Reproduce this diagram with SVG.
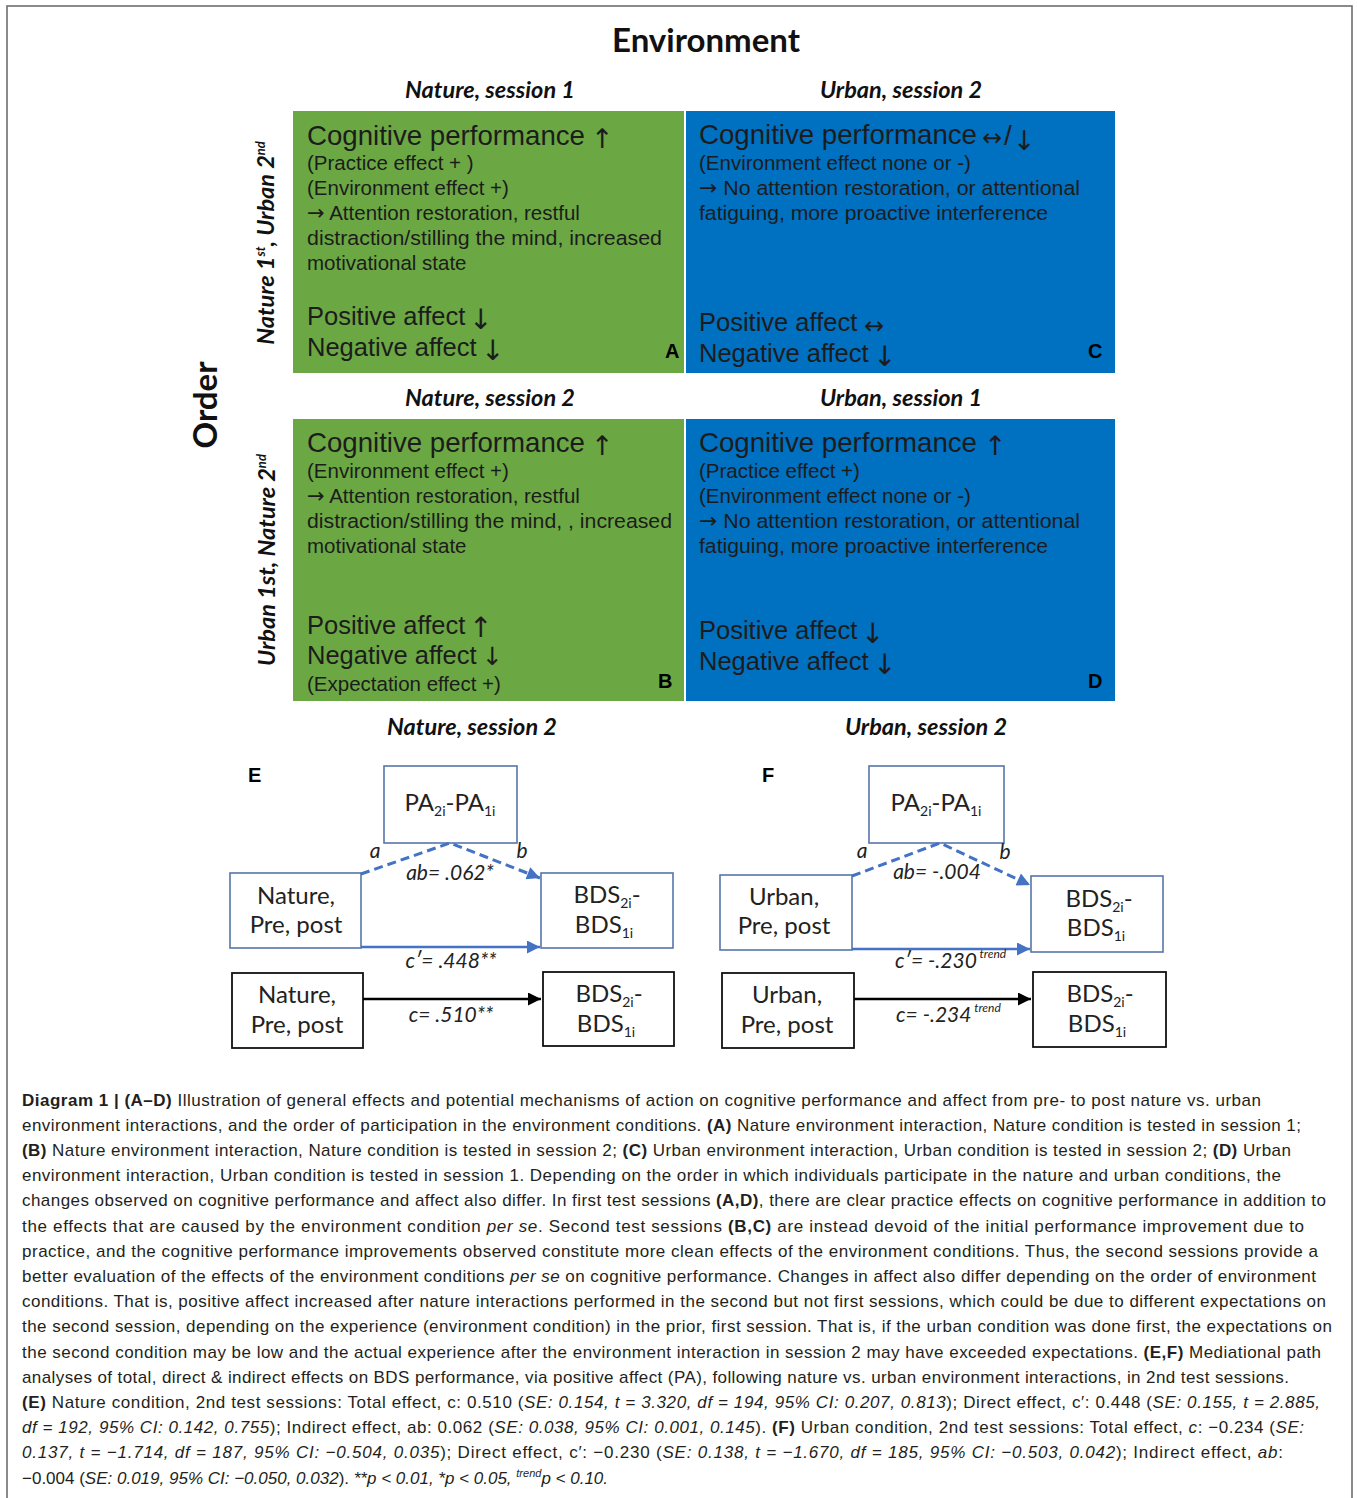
<svg xmlns="http://www.w3.org/2000/svg" width="1357" height="1498" viewBox="0 0 1357 1498">
<style>
.hd{font-family:Lato,"Open Sans","Liberation Sans",sans-serif;font-weight:bold;fill:#111}
.hi{font-family:Lato,"Open Sans","Liberation Sans",sans-serif;font-weight:bold;font-style:italic;fill:#111;font-size:23.5px}
.q{font-family:"Liberation Sans",Arial,sans-serif;fill:#1c1c1c}
.qb{font-size:28px}
.qs{font-size:20.5px}
.qm{font-size:25.5px}
.ar{font-family:"DejaVu Sans","Liberation Sans",sans-serif;fill:#1c1c1c}
.ah{font-size:27px}
.am{font-size:28px}
.sa{font-family:"DejaVu Sans","Liberation Sans",sans-serif;font-size:21px}
.ql{font-family:"Liberation Sans",Arial,sans-serif;font-weight:bold;font-size:20px;fill:#000}
.bx{font-family:Lato,"Open Sans","Liberation Sans",sans-serif;font-size:24px;fill:#222}
.lb{font-family:Lato,"Open Sans","Liberation Sans",sans-serif;font-style:italic;font-size:21px;fill:#222}
.nb{fill:#fff;stroke:#5676ab;stroke-width:1.6}
.kb{fill:#fff;stroke:#111;stroke-width:1.8}
.cap{font-family:"Liberation Sans",Arial,sans-serif;font-size:17px;fill:#231f20}
.b{font-weight:bold}
.i{font-style:italic}
</style>
<defs>
<marker id="abl" viewBox="0 0 10 10" refX="10" refY="5" markerWidth="15" markerHeight="13" markerUnits="userSpaceOnUse" orient="auto"><path d="M0,0 L10,5 L0,10 z" fill="#4472c4"/></marker>
<marker id="akl" viewBox="0 0 10 10" refX="10" refY="5" markerWidth="15" markerHeight="13" markerUnits="userSpaceOnUse" orient="auto"><path d="M0,0 L10,5 L0,10 z" fill="#000"/></marker>
</defs>
<rect x="0" y="0" width="1357" height="1498" fill="#fff"/>
<rect x="7" y="6" width="1345" height="1510" fill="none" stroke="#6e6e6e" stroke-width="1.6"/>

<g id="titles">
<text class="hd" x="706" y="52" font-size="33" text-anchor="middle">Environment</text>
<text class="hd" transform="translate(217,405) rotate(-90)" font-size="33" text-anchor="middle">Order</text>
<text class="hi" transform="translate(274,243) rotate(-90)" text-anchor="middle">Nature 1<tspan font-size="13" dy="-9">st</tspan><tspan dy="9">, Urban 2</tspan><tspan font-size="13" dy="-9">nd</tspan></text>
<text class="hi" transform="translate(275,560) rotate(-90)" text-anchor="middle">Urban 1st, Nature 2<tspan font-size="13" dy="-9">nd</tspan></text>
<text class="hi" x="490" y="98" text-anchor="middle">Nature, session 1</text>
<text class="hi" x="901" y="98" text-anchor="middle">Urban, session 2</text>
<text class="hi" x="490" y="406" text-anchor="middle">Nature, session 2</text>
<text class="hi" x="901" y="406" text-anchor="middle">Urban, session 1</text>
</g>

<g id="quadA">
<rect x="293" y="111" width="391" height="262" fill="#6ba843"/>
<text class="q qb" x="307" y="145" textLength="278" lengthAdjust="spacingAndGlyphs">Cognitive performance</text>
<text class="ar ah" x="591" y="148">↑</text>
<text class="q qs" x="307" y="170">(Practice effect + )</text>
<text class="q qs" x="307" y="195">(Environment effect +)</text>
<text class="q qs" x="307" y="220"><tspan class="sa">→</tspan> Attention restoration, restful</text>
<text class="q qs" x="307" y="245" textLength="355" lengthAdjust="spacingAndGlyphs">distraction/stilling the mind, increased</text>
<text class="q qs" x="307" y="270">motivational state</text>
<text class="q qm" x="307" y="325">Positive affect</text>
<text class="ar am" x="469" y="329">↓</text>
<text class="q qm" x="307" y="356">Negative  affect</text>
<text class="ar am" x="481" y="360">↓</text>
<text class="ql" x="665" y="358">A</text>
</g>

<g id="quadC">
<rect x="686" y="111" width="429" height="262" fill="#0070c0"/>
<text class="q qb" x="699" y="144" textLength="278" lengthAdjust="spacingAndGlyphs">Cognitive performance</text>
<text class="ar" x="982" y="146" font-size="24">↔</text>
<text class="q qb" x="1004" y="145">/</text>
<text class="ar ah" x="1013" y="150">↓</text>
<text class="q qs" x="699" y="170">(Environment effect none or -)</text>
<text class="q qs" x="699" y="195" textLength="381" lengthAdjust="spacingAndGlyphs"><tspan class="sa">→</tspan> No attention restoration, or attentional</text>
<text class="q qs" x="699" y="220" textLength="349" lengthAdjust="spacingAndGlyphs">fatiguing, more proactive interference</text>
<text class="q qm" x="699" y="331">Positive affect</text>
<text class="ar" x="864" y="334" font-size="24">↔</text>
<text class="q qm" x="699" y="362">Negative  affect</text>
<text class="ar am" x="873" y="366">↓</text>
<text class="ql" x="1088" y="358">C</text>
</g>

<g id="quadB">
<rect x="293" y="419" width="391" height="282" fill="#6ba843"/>
<text class="q qb" x="307" y="452" textLength="278" lengthAdjust="spacingAndGlyphs">Cognitive performance</text>
<text class="ar ah" x="591" y="455">↑</text>
<text class="q qs" x="307" y="478">(Environment effect +)</text>
<text class="q qs" x="307" y="503"><tspan class="sa">→</tspan> Attention restoration, restful</text>
<text class="q qs" x="307" y="528" textLength="365" lengthAdjust="spacingAndGlyphs">distraction/stilling the mind, , increased</text>
<text class="q qs" x="307" y="553">motivational state</text>
<text class="q qm" x="307" y="634">Positive affect</text>
<text class="ar am" x="469" y="637">↑</text>
<text class="q qm" x="307" y="664">Negative  affect</text>
<text class="ar" x="482" y="665" font-size="25">↓</text>
<text class="q qs" x="307" y="691">(Expectation effect +)</text>
<text class="ql" x="658" y="688">B</text>
</g>

<g id="quadD">
<rect x="686" y="419" width="429" height="282" fill="#0070c0"/>
<text class="q qb" x="699" y="452" textLength="278" lengthAdjust="spacingAndGlyphs">Cognitive performance</text>
<text class="ar ah" x="984" y="455">↑</text>
<text class="q qs" x="699" y="478">(Practice effect +)</text>
<text class="q qs" x="699" y="503">(Environment effect none or -)</text>
<text class="q qs" x="699" y="528" textLength="381" lengthAdjust="spacingAndGlyphs"><tspan class="sa">→</tspan> No attention restoration, or attentional</text>
<text class="q qs" x="699" y="553" textLength="349" lengthAdjust="spacingAndGlyphs">fatiguing, more proactive interference</text>
<text class="q qm" x="699" y="639">Positive affect</text>
<text class="ar am" x="861" y="643">↓</text>
<text class="q qm" x="699" y="670">Negative  affect</text>
<text class="ar am" x="873" y="674">↓</text>
<text class="ql" x="1088" y="688">D</text>
</g>

<g id="panelE-labels">
<text class="hi" x="472" y="735" text-anchor="middle">Nature, session 2</text>
<text class="ql" x="248" y="782">E</text>
</g>
<g id="panelF-labels">
<text class="hi" x="926" y="735" text-anchor="middle">Urban, session 2</text>
<text class="ql" x="762" y="782">F</text>
</g>

<g id="E-PA">
<rect class="nb" x="384" y="766" width="133" height="77"/>
<text class="bx" x="450" y="811" text-anchor="middle" font-size="22.5">PA<tspan font-size="14" dy="5">2i</tspan><tspan dy="-5">-PA</tspan><tspan font-size="14" dy="5">1i</tspan></text>
</g>
<g id="E-Nature">
<rect class="nb" x="230" y="873" width="131" height="75"/>
<text class="bx" x="296" y="904" text-anchor="middle">Nature,</text>
<text class="bx" x="296" y="933" text-anchor="middle">Pre, post</text>
</g>
<g id="E-BDS">
<rect class="nb" x="541" y="873" width="132" height="75"/>
<text class="bx" x="607" y="903" text-anchor="middle">BDS<tspan font-size="14" dy="5">2i</tspan><tspan dy="-5">-</tspan></text>
<text class="bx" x="604" y="933" text-anchor="middle">BDS<tspan font-size="14" dy="5">1i</tspan></text>
</g>
<g id="E-Nature2">
<rect class="kb" x="232" y="973" width="131" height="75"/>
<text class="bx" x="297" y="1003" text-anchor="middle">Nature,</text>
<text class="bx" x="297" y="1033" text-anchor="middle">Pre, post</text>
</g>
<g id="E-BDS2">
<rect class="kb" x="543" y="972" width="131" height="74"/>
<text class="bx" x="609" y="1002" text-anchor="middle">BDS<tspan font-size="14" dy="5">2i</tspan><tspan dy="-5">-</tspan></text>
<text class="bx" x="606" y="1032" text-anchor="middle">BDS<tspan font-size="14" dy="5">1i</tspan></text>
</g>

<g id="F-PA">
<rect class="nb" x="869" y="766" width="135" height="77"/>
<text class="bx" x="936" y="811" text-anchor="middle" font-size="22.5">PA<tspan font-size="14" dy="5">2i</tspan><tspan dy="-5">-PA</tspan><tspan font-size="14" dy="5">1i</tspan></text>
</g>
<g id="F-Urban">
<rect class="nb" x="720" y="875" width="132" height="75"/>
<text class="bx" x="784" y="905" text-anchor="middle">Urban,</text>
<text class="bx" x="784" y="934" text-anchor="middle">Pre, post</text>
</g>
<g id="F-BDS">
<rect class="nb" x="1031" y="876" width="132" height="76"/>
<text class="bx" x="1099" y="907" text-anchor="middle">BDS<tspan font-size="14" dy="5">2i</tspan><tspan dy="-5">-</tspan></text>
<text class="bx" x="1096" y="936" text-anchor="middle">BDS<tspan font-size="14" dy="5">1i</tspan></text>
</g>
<g id="F-Urban2">
<rect class="kb" x="722" y="973" width="132" height="75"/>
<text class="bx" x="787" y="1003" text-anchor="middle">Urban,</text>
<text class="bx" x="787" y="1033" text-anchor="middle">Pre, post</text>
</g>
<g id="F-BDS2">
<rect class="kb" x="1033" y="972" width="133" height="75"/>
<text class="bx" x="1100" y="1002" text-anchor="middle">BDS<tspan font-size="14" dy="5">2i</tspan><tspan dy="-5">-</tspan></text>
<text class="bx" x="1097" y="1032" text-anchor="middle">BDS<tspan font-size="14" dy="5">1i</tspan></text>
</g>

<g id="connectors" fill="none">
<path d="M361,874 L450,843 L540,878" stroke="#4472c4" stroke-width="3" stroke-dasharray="9,5" marker-end="url(#abl)"/>
<path d="M361,947 L540,947" stroke="#4472c4" stroke-width="2.6" marker-end="url(#abl)"/>
<path d="M363,999 L541,999" stroke="#000" stroke-width="2.6" marker-end="url(#akl)"/>
<path d="M852,876 L940,843 L1030,885" stroke="#4472c4" stroke-width="3" stroke-dasharray="9,5" marker-end="url(#abl)"/>
<path d="M852,949 L1030,949" stroke="#4472c4" stroke-width="2.6" marker-end="url(#abl)"/>
<path d="M854,999 L1031,999" stroke="#000" stroke-width="2.6" marker-end="url(#akl)"/>
</g>
<g id="connector-labels">
<text class="lb" x="375" y="858" text-anchor="middle">a</text>
<text class="lb" x="522" y="858" text-anchor="middle">b</text>
<text class="lb" x="450" y="880" text-anchor="middle">ab= .062*</text>
<text class="lb" x="451" y="968" text-anchor="middle">c′= .448**</text>
<text class="lb" x="451" y="1022" text-anchor="middle">c= .510**</text>
<text class="lb" x="862" y="858" text-anchor="middle">a</text>
<text class="lb" x="1005" y="859" text-anchor="middle">b</text>
<text class="lb" x="937" y="879" text-anchor="middle">ab= -.004</text>
<text class="lb" x="895" y="968">c′= -.230<tspan font-size="12" dy="-10"> trend</tspan></text>
<text class="lb" x="896" y="1022">c= -.234<tspan font-size="12" dy="-10"> trend</tspan></text>
</g>

<g id="caption" class="cap">
<text x="22" y="1106" textLength="1239" lengthAdjust="spacing"><tspan class="b">Diagram 1 | (A–D)</tspan> Illustration of general effects and potential mechanisms of action on cognitive performance and affect from pre- to post nature vs. urban</text>
<text x="22" y="1131" textLength="1279" lengthAdjust="spacing">environment interactions, and the order of participation in the environment conditions. <tspan class="b">(A)</tspan> Nature environment interaction, Nature condition is tested in session 1;</text>
<text x="22" y="1156" textLength="1269" lengthAdjust="spacing"><tspan class="b">(B)</tspan> Nature environment interaction, Nature condition is tested in session 2; <tspan class="b">(C)</tspan> Urban environment interaction, Urban condition is tested in session 2; <tspan class="b">(D)</tspan> Urban</text>
<text x="22" y="1181" textLength="1259" lengthAdjust="spacing">environment interaction, Urban condition is tested in session 1. Depending on the order in which individuals participate in the nature and urban conditions, the</text>
<text x="22" y="1206" textLength="1304" lengthAdjust="spacing">changes observed on cognitive performance and affect also differ. In first test sessions <tspan class="b">(A,D)</tspan>, there are clear practice effects on cognitive performance in addition to</text>
<text x="22" y="1232" textLength="1282" lengthAdjust="spacing">the effects that are caused by the environment condition <tspan class="i">per se</tspan>. Second test sessions <tspan class="b">(B,C)</tspan> are instead devoid of the initial performance improvement due to</text>
<text x="22" y="1257" textLength="1296" lengthAdjust="spacing">practice, and the cognitive performance improvements observed constitute more clean effects of the environment conditions. Thus, the second sessions provide a</text>
<text x="22" y="1282" textLength="1294" lengthAdjust="spacing">better evaluation of the effects of the environment conditions <tspan class="i">per se</tspan> on cognitive performance. Changes in affect also differ depending on the order of environment</text>
<text x="22" y="1307" textLength="1304" lengthAdjust="spacing">conditions. That is, positive affect increased after nature interactions performed in the second but not first sessions, which could be due to different expectations on</text>
<text x="22" y="1332" textLength="1310" lengthAdjust="spacing">the second session, depending on the experience (environment condition) in the prior, first session. That is, if the urban condition was done first, the expectations on</text>
<text x="22" y="1358" textLength="1299" lengthAdjust="spacing">the second condition may be low and the actual experience after the environment interaction in session 2 may have exceeded expectations. <tspan class="b">(E,F)</tspan> Mediational path</text>
<text x="22" y="1383" textLength="1267" lengthAdjust="spacing">analyses of total, direct &amp; indirect effects on BDS performance, via positive affect (PA), following nature vs. urban environment interactions, in 2nd test sessions.</text>
<text x="22" y="1408" textLength="1298" lengthAdjust="spacing"><tspan class="b">(E)</tspan> Nature condition, 2nd test sessions: Total effect, c: 0.510 (<tspan class="i">SE: 0.154, t = 3.320, df = 194, 95% CI: 0.207, 0.813</tspan>); Direct effect, c′: 0.448 (<tspan class="i">SE: 0.155, t = 2.885,</tspan></text>
<text x="22" y="1433" textLength="1282" lengthAdjust="spacing"><tspan class="i">df = 192, 95% CI: 0.142, 0.755</tspan>); Indirect effect, ab: 0.062 (<tspan class="i">SE: 0.038, 95% CI: 0.001, 0.145</tspan>). <tspan class="b">(F)</tspan> Urban condition, 2nd test sessions: Total effect, <tspan class="i">c</tspan>: −0.234 (<tspan class="i">SE:</tspan></text>
<text x="22" y="1458" textLength="1261" lengthAdjust="spacing"><tspan class="i">0.137, t = −1.714, df = 187, 95% CI: −0.504, 0.035</tspan>); Direct effect, c′: −0.230 (<tspan class="i">SE: 0.138, t = −1.670, df = 185, 95% CI: −0.503, 0.042</tspan>); Indirect effect, <tspan class="i">ab</tspan>:</text>
<text x="22" y="1484">−0.004 (<tspan class="i">SE: 0.019, 95% CI: −0.050, 0.032</tspan>). <tspan class="i">**p &lt; 0.01, *p &lt; 0.05, </tspan><tspan class="i" font-size="11" dy="-7">trend</tspan><tspan class="i" dy="7">p &lt; 0.10.</tspan></text>
</g>
</svg>
